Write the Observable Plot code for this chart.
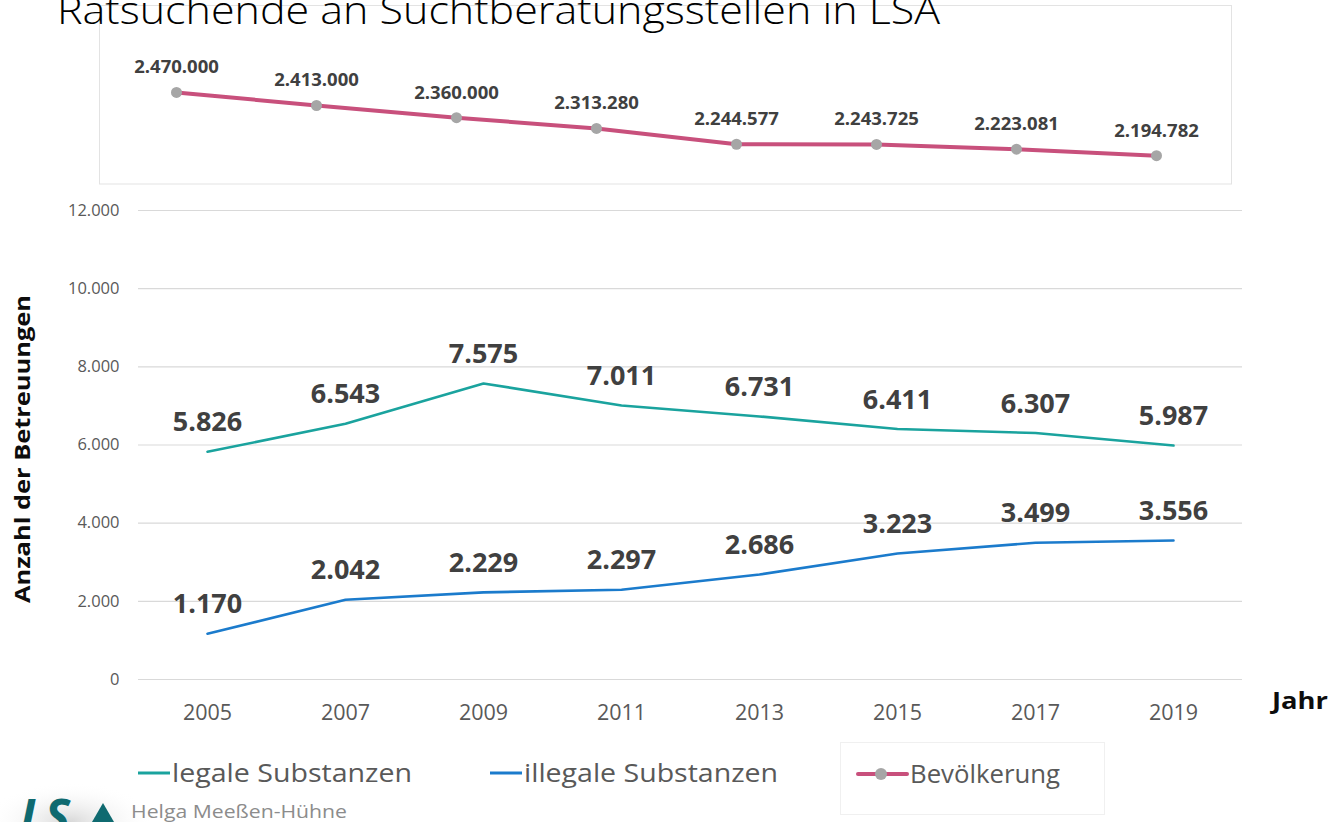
<!DOCTYPE html>
<html>
<head>
<meta charset="utf-8">
<script src="https://cdn.jsdelivr.net/npm/d3@7"></script>
<script src="https://cdn.jsdelivr.net/npm/@observablehq/plot@0.6"></script>
<style>
  html, body { margin: 0; padding: 0; background: #fff; }
  #wrap { position: relative; width: 1343px; height: 822px; overflow: hidden; font-family: "Open Sans", sans-serif; }
  #wrap > svg, #wrap > figure, #wrap > div { position: absolute; margin: 0; }
</style>
</head>
<body>
<div id="wrap"></div>
<script>
// ---- data ----
const years = ["2005", "2007", "2009", "2011", "2013", "2015", "2017", "2019"];
const legal = [5826, 6543, 7575, 7011, 6731, 6411, 6307, 5987];
const illegal = [1170, 2042, 2229, 2297, 2686, 3223, 3499, 3556];
const population = [2470000, 2413000, 2360000, 2313280, 2244577, 2243725, 2223081, 2194782];
const yTicks = [0, 2000, 4000, 6000, 8000, 10000, 12000];
const seriesNames = ["legale Substanzen", "illegale Substanzen", "Bevölkerung"];
const titleText = "Ratsuchende an Suchtberatungsstellen in LSA";
const yLabel = "Anzahl der Betreuungen";
const xLabel = "Jahr";
const author = "Helga Meeßen-Hühne";

const C_LEGAL = "#1aa39e", C_ILLEGAL = "#1b7bcc", C_POP = "#c8507c", C_DOT = "#a6a6a6";
const LABEL = "#404040", TICK = "#595959";

const fmt = d3.formatLocale({decimal: ",", thousands: ".", grouping: [3], currency: ["", "€"]}).format(",d");

const legalData = years.map((y, i) => ({year: y, value: legal[i]}));
const illegalData = years.map((y, i) => ({year: y, value: illegal[i]}));
const popData = years.map((y, i) => ({year: y, value: population[i]}));

const wrap = document.getElementById("wrap");

// ---- inset (population) ----
const inset = Plot.plot({
  width: 1132, height: 179,
  marginLeft: 75, marginRight: 73, marginTop: 80, marginBottom: 7,
  style: {fontFamily: "Open Sans, sans-serif", background: "transparent", overflow: "visible"},
  x: {type: "point", domain: years, padding: 0, axis: null},
  y: {domain: [2100000, 2500000], axis: null},
  marks: [
    Plot.lineY(popData, {x: "year", y: "value", stroke: C_POP, strokeWidth: 4}),
    Plot.dot(popData, {x: "year", y: "value", r: 5.5, fill: C_DOT, stroke: "none"}),
    Plot.text(popData, {x: "year", y: "value", text: d => fmt(d.value), dy: -25, fontSize: 18.5, fontWeight: 700, fill: LABEL})
  ]
});
inset.style.left = "99px"; inset.style.top = "5px";
wrap.appendChild(inset);

// ---- main chart ----
const main = Plot.plot({
  width: 1343, height: 540,
  marginLeft: 138, marginRight: 101, marginTop: 20, marginBottom: 51,
  style: {fontFamily: "Open Sans, sans-serif", background: "transparent", overflow: "visible"},
  x: {type: "point", domain: years, padding: 0.5},
  y: {domain: [0, 12000]},
  marks: [
    Plot.gridY(yTicks, {stroke: "#d9d9d9", strokeOpacity: 1, strokeWidth: 1.2}),
    Plot.axisY({ticks: yTicks, tickFormat: fmt, tickSize: 0, tickPadding: 19, fontSize: 16.5, fill: TICK, label: null}),
    Plot.axisX({tickSize: 0, tickPadding: 25, fontSize: 21.5, fill: TICK, label: null}),
    Plot.lineY(legalData, {x: "year", y: "value", stroke: C_LEGAL, strokeWidth: 2.6}),
    Plot.lineY(illegalData, {x: "year", y: "value", stroke: C_ILLEGAL, strokeWidth: 2.6}),
    Plot.text(legalData, {x: "year", y: "value", text: d => fmt(d.value), dy: -29, fontSize: 27, fontWeight: 700, fill: LABEL}),
    Plot.text(illegalData, {x: "year", y: "value", text: d => fmt(d.value), dy: -29, fontSize: 27, fontWeight: 700, fill: LABEL})
  ]
});
main.style.left = "0px"; main.style.top = "190px";
wrap.appendChild(main);

// ---- overlay: title, box, axis titles, legend, footer ----
const ov = d3.select(wrap).append("svg")
  .attr("width", 1343).attr("height", 822)
  .style("left", "0px").style("top", "0px")
  .style("pointer-events", "none")
  .style("font-family", "Open Sans, sans-serif");

// inset frame
ov.append("rect").attr("x", 99.5).attr("y", 5.5).attr("width", 1132).attr("height", 178.5)
  .attr("fill", "none").attr("stroke", "#e3e3e3").attr("stroke-width", 1);

// title (drawn over the frame)
ov.append("text").attr("x", 57).attr("y", 24)
  .attr("font-size", 39).attr("font-weight", 300).attr("fill", "#000")
  .attr("textLength", 883).attr("lengthAdjust", "spacingAndGlyphs")
  .text(titleText);

// y axis title
ov.append("text").attr("transform", "translate(30,449) rotate(-90)")
  .attr("text-anchor", "middle").attr("font-size", 22).attr("font-weight", 700).attr("fill", "#0d0d0d")
  .attr("textLength", 308).attr("lengthAdjust", "spacingAndGlyphs")
  .text(yLabel);

// x axis title
ov.append("text").attr("x", 1272).attr("y", 709)
  .attr("font-size", 24).attr("font-weight", 700).attr("fill", "#0d0d0d")
  .attr("textLength", 56).attr("lengthAdjust", "spacingAndGlyphs")
  .text(xLabel);

// legend
const lg = ov.append("g");
lg.append("line").attr("x1", 138).attr("x2", 170).attr("y1", 773).attr("y2", 773).attr("stroke", C_LEGAL).attr("stroke-width", 3);
lg.append("text").attr("x", 172).attr("y", 782).attr("font-size", 25).attr("fill", TICK)
  .attr("textLength", 240).attr("lengthAdjust", "spacingAndGlyphs").text(seriesNames[0]);
lg.append("line").attr("x1", 490).attr("x2", 522).attr("y1", 773).attr("y2", 773).attr("stroke", C_ILLEGAL).attr("stroke-width", 3);
lg.append("text").attr("x", 524).attr("y", 782).attr("font-size", 25).attr("fill", TICK)
  .attr("textLength", 254).attr("lengthAdjust", "spacingAndGlyphs").text(seriesNames[1]);
lg.append("rect").attr("x", 840.5).attr("y", 742.5).attr("width", 264).attr("height", 72)
  .attr("fill", "none").attr("stroke", "#f0f0f0");
lg.append("line").attr("x1", 858).attr("x2", 907).attr("y1", 774).attr("y2", 774).attr("stroke", C_POP).attr("stroke-width", 4).attr("stroke-linecap", "round");
lg.append("circle").attr("cx", 881).attr("cy", 774).attr("r", 6).attr("fill", C_DOT);
lg.append("text").attr("x", 910).attr("y", 783).attr("font-size", 25).attr("fill", TICK)
  .attr("textLength", 150).attr("lengthAdjust", "spacingAndGlyphs").text(seriesNames[2]);

// footer: logo + author
const glow = ov.append("defs").append("radialGradient").attr("id", "glow");
glow.append("stop").attr("offset", "0%").attr("stop-color", "#d8d8d8");
glow.append("stop").attr("offset", "100%").attr("stop-color", "#ffffff").attr("stop-opacity", 0);
ov.append("ellipse").attr("cx", 70).attr("cy", 822).attr("rx", 85).attr("ry", 40).attr("fill", "url(#glow)");
ov.append("text").attr("x", 20).attr("y", 834)
  .attr("font-size", 48).attr("font-weight", 700).attr("font-style", "italic").attr("fill", "#0f6a70")
  .text("LS");
ov.append("path").attr("d", "M92,822 L103,803 L114,822 Z").attr("fill", "#0f6a70");
ov.append("text").attr("x", 131).attr("y", 818).attr("font-size", 18.5).attr("fill", "#8c8c8c")
  .attr("textLength", 216).attr("lengthAdjust", "spacingAndGlyphs").text(author);
</script>
</body>
</html>
